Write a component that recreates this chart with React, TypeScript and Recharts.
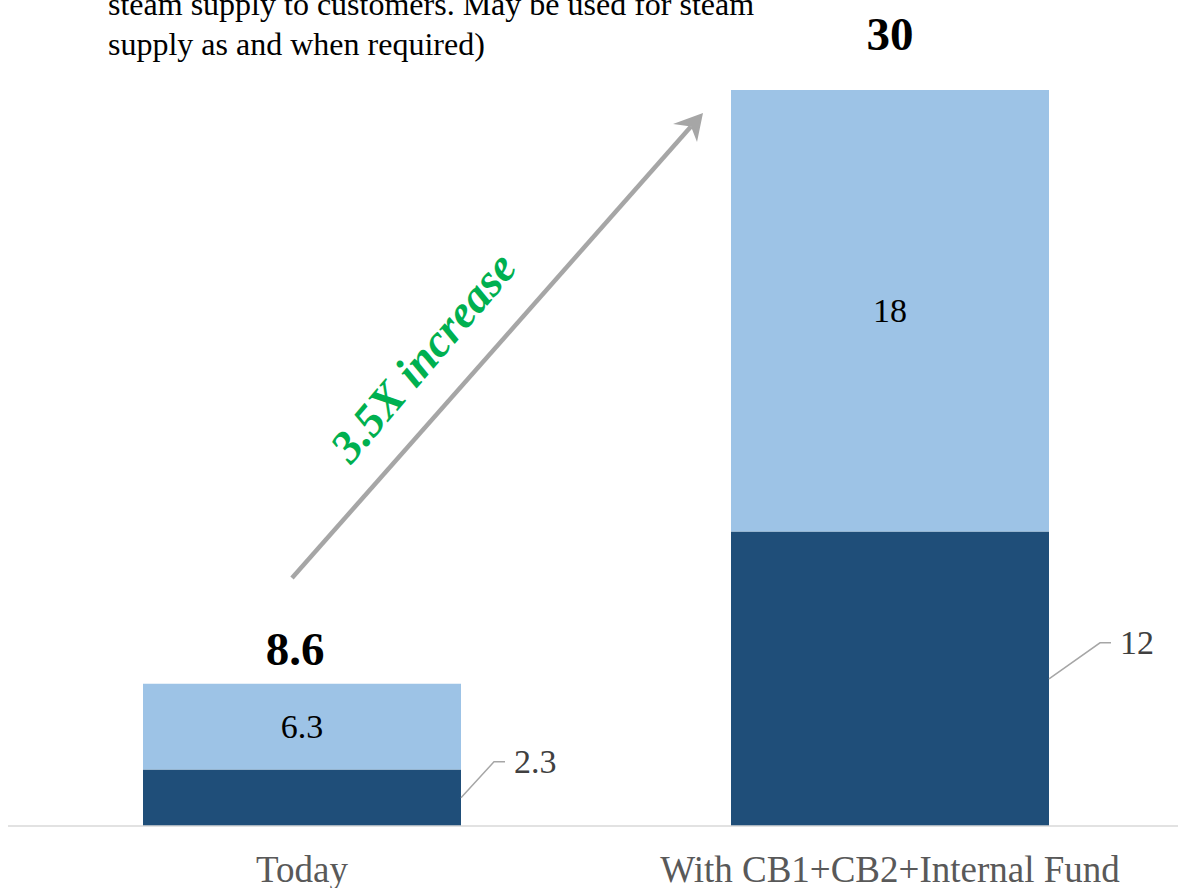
import { Bar, BarChart, XAxis, YAxis, LabelList } from "recharts"

const categories = ["Today", "With CB1+CB2+Internal Fund"]
const baseValues = [2.3, 12]
// light segment heights as drawn in the picture (Today's segment is drawn shorter than its 6.3 label)
const addedValues = [3.5, 18]
const baseLabels = ["2.3", "12"]
const addedLabels = ["6.3", "18"]
const totalLabels = ["8.6", "30"]

const data = categories.map((name, i) => ({
  name,
  base: baseValues[i],
  added: addedValues[i],
}))

const serif = "'Liberation Serif', 'Times New Roman', serif"

const CenterLabel = (props: any) => {
  const { x, y, width, height, index } = props
  return (
    <text x={x + width / 2} y={y + height / 2} textAnchor="middle" dominantBaseline="central"
      fontFamily={serif} fontSize={34} fill="#000">
      {addedLabels[index]}
    </text>
  )
}

const leaderGap = [0, 18]
const LeaderLabel = (props: any) => {
  const { x, y, width, height, index } = props
  const rx = x + width
  const my = y + height / 2
  const ex = rx + 33 + leaderGap[index]
  const ey = my - 36
  return (
    <g>
      <polyline points={`${rx},${my} ${ex},${ey} ${ex + 11},${ey}`} fill="none" stroke="#a6a6a6" strokeWidth={1.5} />
      <text x={ex + 20} y={ey} dominantBaseline="central" fontFamily={serif} fontSize={34} fill="#404040">
        {baseLabels[index]}
      </text>
    </g>
  )
}

const totalOffset = [{ dx: -7, dy: -19 }, { dx: 0, dy: -40 }]
const TotalLabel = (props: any) => {
  const { x, y, width, index } = props
  const o = totalOffset[index]
  return (
    <text x={x + width / 2 + o.dx} y={y + o.dy} textAnchor="middle" fontFamily={serif}
      fontSize={47} fontWeight="bold" fill="#000">
      {totalLabels[index]}
    </text>
  )
}

export default function App() {
  return (
    <div style={{ position: "absolute", left: 0, top: 0, width: 1178, height: 888, overflow: "hidden", background: "#fff" }}>
      <BarChart width={1184} height={888} data={data} margin={{ top: 90, right: 0, bottom: 0, left: 8 }}>
        <XAxis dataKey="name" height={62} tickLine={false} axisLine={{ stroke: "#d9d9d9", strokeWidth: 1.5 }}
          tickMargin={24} interval={0}
          tick={{ fontFamily: serif, fontSize: 37, fill: "#595959" }} />
        <YAxis hide domain={[0, 30]} />
        <Bar dataKey="base" stackId="a" fill="#1f4e79" barSize={318} isAnimationActive={false}>
          <LabelList dataKey="base" content={<LeaderLabel />} />
        </Bar>
        <Bar dataKey="added" stackId="a" fill="#9dc3e6" barSize={318} isAnimationActive={false}>
          <LabelList dataKey="added" content={<CenterLabel />} />
          <LabelList dataKey="added" content={<TotalLabel />} />
        </Bar>
      </BarChart>
      <svg width={1178} height={888} style={{ position: "absolute", left: 0, top: 0, pointerEvents: "none" }}>
        <text x={108} y={15} fontFamily={serif} fontSize={32} fill="#000">
          steam supply to customers. May be used for steam
        </text>
        <text x={108} y={55} fontFamily={serif} fontSize={32} fill="#000">
          supply as and when required)
        </text>
        <line x1={292} y1={578} x2={691} y2={126.5} stroke="#a6a6a6" strokeWidth={4.5} />
        <polygon points="703,113 673,124 691,126.5 697,142" fill="#a6a6a6" />
        <text x={423} y={357} transform="rotate(-49.5 423 357)" textAnchor="middle" dominantBaseline="central"
          fontFamily={serif} fontSize={46} fontWeight="bold" fontStyle="italic" fill="#00b050">
          3.5X increase
        </text>
      </svg>
    </div>
  )
}
